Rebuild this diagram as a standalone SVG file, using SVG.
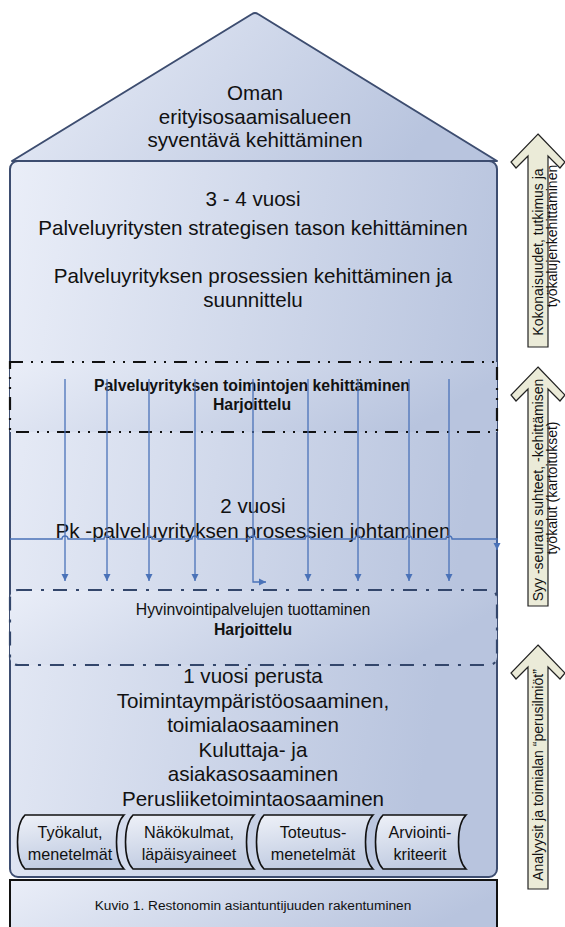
<svg xmlns="http://www.w3.org/2000/svg" width="565" height="927" viewBox="0 0 565 927">
<defs>
<linearGradient id="g" x1="0" y1="0" x2="1" y2="0.25">
<stop offset="0" stop-color="#eaeef8"/>
<stop offset="1" stop-color="#b8c4de"/>
</linearGradient>
<linearGradient id="gt" x1="0" y1="0" x2="0.3" y2="1">
<stop offset="0" stop-color="#eef1f8"/>
<stop offset="1" stop-color="#c0cbe1"/>
</linearGradient>
<marker id="ah" markerWidth="8" markerHeight="8" refX="7" refY="4" orient="auto" markerUnits="userSpaceOnUse">
<path d="M0,0.5 L7,4 L0,7.5 Z" fill="#4a72b8"/>
</marker>
<style>
text{font-family:"Liberation Sans",Arial,sans-serif;fill:#111;text-anchor:middle}
.big{font-size:20.6px}
.mid{font-size:15.8px}
.b{font-weight:bold}
.tape{font-size:16.2px}
.ar{font-size:14px}
.line{fill:none;stroke:#4a72b8;stroke-width:1.3}
.arrow{fill:#ebebd8;stroke:#222;stroke-width:1.2}
.tp{fill:url(#gt);stroke:#111;stroke-width:1.6}
</style>
</defs>

<g id="roof">
<path d="M12,161 L252,14 Q255,12 258,14 L497,161 Z" fill="url(#g)" stroke="#3d4d70" stroke-width="2" stroke-linejoin="round"/>
<text class="big" x="255" y="100">Oman</text>
<text class="big" x="255" y="124">erityisosaamisalueen</text>
<text class="big" x="255" y="147">syventävä kehittäminen</text>
</g>

<g id="body">
<rect x="10" y="161" width="487" height="716" rx="8" fill="url(#g)" stroke="#3d4d70" stroke-width="2"/>
<text class="big" x="253" y="206">3 - 4 vuosi</text>
<text class="big" x="253" y="235">Palveluyritysten strategisen tason kehittäminen</text>
<text class="big" x="253" y="283">Palveluyrityksen prosessien kehittäminen ja</text>
<text class="big" x="253" y="307">suunnittelu</text>
</g>

<g id="band1">
<rect x="10" y="362" width="487" height="70" fill="url(#g)" stroke="#111" stroke-width="2.2" stroke-dasharray="13 8 2 8 2 8"/>
<text class="mid b" x="252" y="391">Palveluyrityksen toimintojen kehittäminen</text>
<text class="mid b" x="252" y="410">Harjoittelu</text>
</g>

<g id="year2">
<text class="big" x="253" y="513">2 vuosi</text>
<text class="big" x="253" y="538">Pk -palveluyrityksen prosessien johtaminen</text>
</g>

<g id="connectors">
<path class="line" d="M10,539 H62 a3,3 0 0 1 6,0 H104 a3,3 0 0 1 6,0 H146 a3,3 0 0 1 6,0 H192 a3,3 0 0 1 6,0 H250 a3,3 0 0 1 6,0 H305 a3,3 0 0 1 6,0 H355 a3,3 0 0 1 6,0 H406 a3,3 0 0 1 6,0 H446 a3,3 0 0 1 6,0 H497 V550" marker-end="url(#ah)"/>
<path class="line" d="M65,379 V581" marker-end="url(#ah)"/>
<path class="line" d="M107,379 V581" marker-end="url(#ah)"/>
<path class="line" d="M149,379 V581" marker-end="url(#ah)"/>
<path class="line" d="M195,379 V581" marker-end="url(#ah)"/>
<path class="line" d="M253,379 V582 H266" marker-end="url(#ah)"/>
<path class="line" d="M308,379 V581" marker-end="url(#ah)"/>
<path class="line" d="M358,379 V581" marker-end="url(#ah)"/>
<path class="line" d="M409,379 V581" marker-end="url(#ah)"/>
<path class="line" d="M449,379 V581" marker-end="url(#ah)"/>
</g>

<g id="band2">
<rect x="10" y="590" width="487" height="75" rx="8" fill="url(#g)" stroke="#33466b" stroke-width="2.2" stroke-dasharray="14 9 3 9"/>
<text class="mid" x="253" y="615">Hyvinvointipalvelujen tuottaminen</text>
<text class="mid b" x="253" y="635">Harjoittelu</text>
</g>

<g id="year1">
<text class="big" x="253" y="683">1 vuosi perusta</text>
<text class="big" x="253" y="708">Toimintaympäristöosaaminen,</text>
<text class="big" x="253" y="732">toimialaosaaminen</text>
<text class="big" x="253" y="757">Kuluttaja- ja</text>
<text class="big" x="253" y="781">asiakasosaaminen</text>
<text class="big" x="253" y="806">Perusliiketoimintaosaaminen</text>
</g>

<g id="tape1">
<path class="tp" d="M25,815 H124 C114,825 114,859 124,869 H25 C15,859 15,825 25,815 Z"/>
<text class="tape" x="70" y="838">Työkalut,</text>
<text class="tape" x="70" y="860">menetelmät</text>
</g>
<g id="tape2">
<path class="tp" d="M133,815 H254 C244,825 244,859 254,869 H133 C123,859 123,825 133,815 Z"/>
<text class="tape" x="189" y="838">Näkökulmat,</text>
<text class="tape" x="189" y="860">läpäisyaineet</text>
</g>
<g id="tape3">
<path class="tp" d="M264,815 H373 C363,825 363,859 373,869 H264 C254,859 254,825 264,815 Z"/>
<text class="tape" x="313" y="838">Toteutus-</text>
<text class="tape" x="313" y="860">menetelmät</text>
</g>
<g id="tape4">
<path class="tp" d="M383,815 H466 C456,825 456,859 466,869 H383 C373,859 373,825 383,815 Z"/>
<text class="tape" x="420" y="838">Arviointi-</text>
<text class="tape" x="420" y="860">kriteerit</text>
</g>

<g id="caption">
<rect x="10" y="880" width="487" height="60" fill="url(#g)" stroke="#111" stroke-width="2"/>
<text x="253" y="910" style="font-size:13.7px">Kuvio 1. Restonomin asiantuntijuuden rakentuminen</text>
</g>

<g id="arrow1">
<path class="arrow" d="M538,134 L565,162 L560,168 L548,156 V347 H528 V156 L516,168 L511,162 Z"/>
<text class="ar" transform="translate(538,252) rotate(-90)" x="0" y="5">Kokonaisuudet, tutkimus ja</text>
<text class="ar" transform="translate(552,236) rotate(-90)" x="0" y="5">työkalujenkehittäminen</text>
</g>
<g id="arrow2">
<path class="arrow" d="M538,367 L565,395 L560,401 L548,389 V606 H528 V389 L516,401 L511,395 Z"/>
<text class="ar" transform="translate(538,490) rotate(-90)" x="0" y="5">Syy -seuraus suhteet,  -kehittämisen</text>
<text class="ar" transform="translate(552,488) rotate(-90)" x="0" y="5">työkalut (kartoitukset)</text>
</g>
<g id="arrow3">
<path class="arrow" d="M538,645 L565,673 L560,679 L548,667 V889 H528 V667 L516,679 L511,673 Z"/>
<text class="ar" transform="translate(538,775) rotate(-90)" x="0" y="5">Analyysit ja toimialan  “perusilmiöt”</text>
</g>
</svg>
